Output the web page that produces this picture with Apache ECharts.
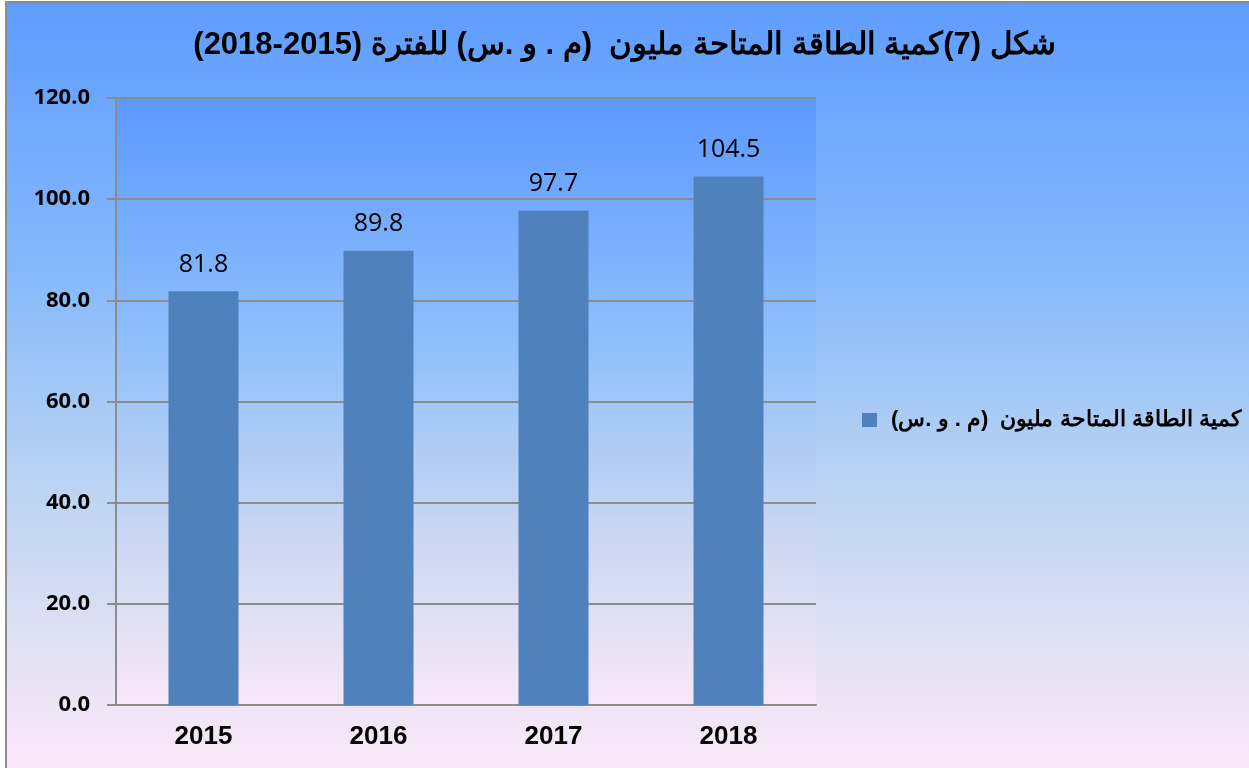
<!DOCTYPE html>
<html>
<head>
<meta charset="utf-8">
<script src="https://cdn.jsdelivr.net/npm/echarts@6/dist/echarts.min.js"></script>
<style>
  html, body { margin: 0; padding: 0; background: #fff; }
  #frame {
    position: absolute; left: 5px; top: 1px; width: 1244px; height: 767px;
    border-left: 2px solid #8c8c8c; border-top: 2px solid #8c8c8c;
    background: linear-gradient(to bottom, #5e9cff 0%, #86b9fb 35%, #b9d3f2 62%, #e4e2f4 85%, #fae8f8 100%);
  }
  #chart { position: absolute; left: 0; top: 0; width: 1249px; height: 768px; }
</style>
</head>
<body>
<div id="frame"></div>
<div id="chart"></div>
<script>
// data
const years = ["2015", "2016", "2017", "2018"];
const energy = [81.8, 89.8, 97.7, 104.5];
const seriesName = "كمية الطاقة المتاحة مليون  (م . و .س)";
const titleText = "شكل (7)كمية الطاقة المتاحة مليون  (م . و .س) للفترة (2015-2018)";

const chart = echarts.init(document.getElementById("chart"));

const option = {
  backgroundColor: "transparent",
  animation: false,
  title: {
    text: titleText,
    left: "center",
    top: 25,
    textStyle: { fontFamily: "Liberation Sans", fontWeight: "bold", fontSize: 31, color: "#000" }
  },
  legend: {
    left: 857,
    top: 404,
    itemWidth: 15,
    itemHeight: 14,
    icon: "rect",
    textStyle: { fontFamily: "Liberation Sans", fontWeight: "bold", fontSize: 22, color: "#000", padding: [0, 0, 0, 9] },
    data: [seriesName]
  },
  grid: {
    left: 116, right: 433, top: 98, bottom: 63,
    show: true,
    borderWidth: 0,
    backgroundColor: new echarts.graphic.LinearGradient(0, 0, 0, 1, [
      { offset: 0, color: "#5c99ff" },
      { offset: 0.4, color: "#8fbffb" },
      { offset: 0.75, color: "#cfd9f1" },
      { offset: 1, color: "#f8e8f8" }
    ])
  },
  xAxis: {
    type: "category",
    data: years,
    axisLine: { lineStyle: { color: "#8c8c8c", width: 2 } },
    axisTick: { length: 8, lineStyle: { color: "#8c8c8c", width: 2 } },
    axisLabel: { margin: 19, fontFamily: "Liberation Sans", fontWeight: "bold", fontSize: 26, color: "#000" }
  },
  yAxis: {
    type: "value",
    min: 0,
    max: 120,
    interval: 20,
    axisLine: { show: true, lineStyle: { color: "#8c8c8c", width: 2 } },
    axisTick: { show: true, length: 9, lineStyle: { color: "#8c8c8c", width: 2 } },
    splitLine: { lineStyle: { color: "#8c8c8c", width: 2 } },
    axisLabel: {
      margin: 26,
      fontFamily: "Open Sans", fontWeight: "bold", fontSize: 22, color: "#000",
      formatter: v => v.toFixed(1)
    }
  },
  series: [{
    name: seriesName,
    type: "bar",
    data: energy,
    barWidth: "40%",
    itemStyle: { color: "#4f81bd" },
    label: {
      show: true,
      position: "top",
      distance: 14,
      fontFamily: "Open Sans",
      fontSize: 25,
      color: "#000",
      formatter: p => p.value.toFixed(1)
    }
  }]
};

chart.setOption(option);
</script>
</body>
</html>
